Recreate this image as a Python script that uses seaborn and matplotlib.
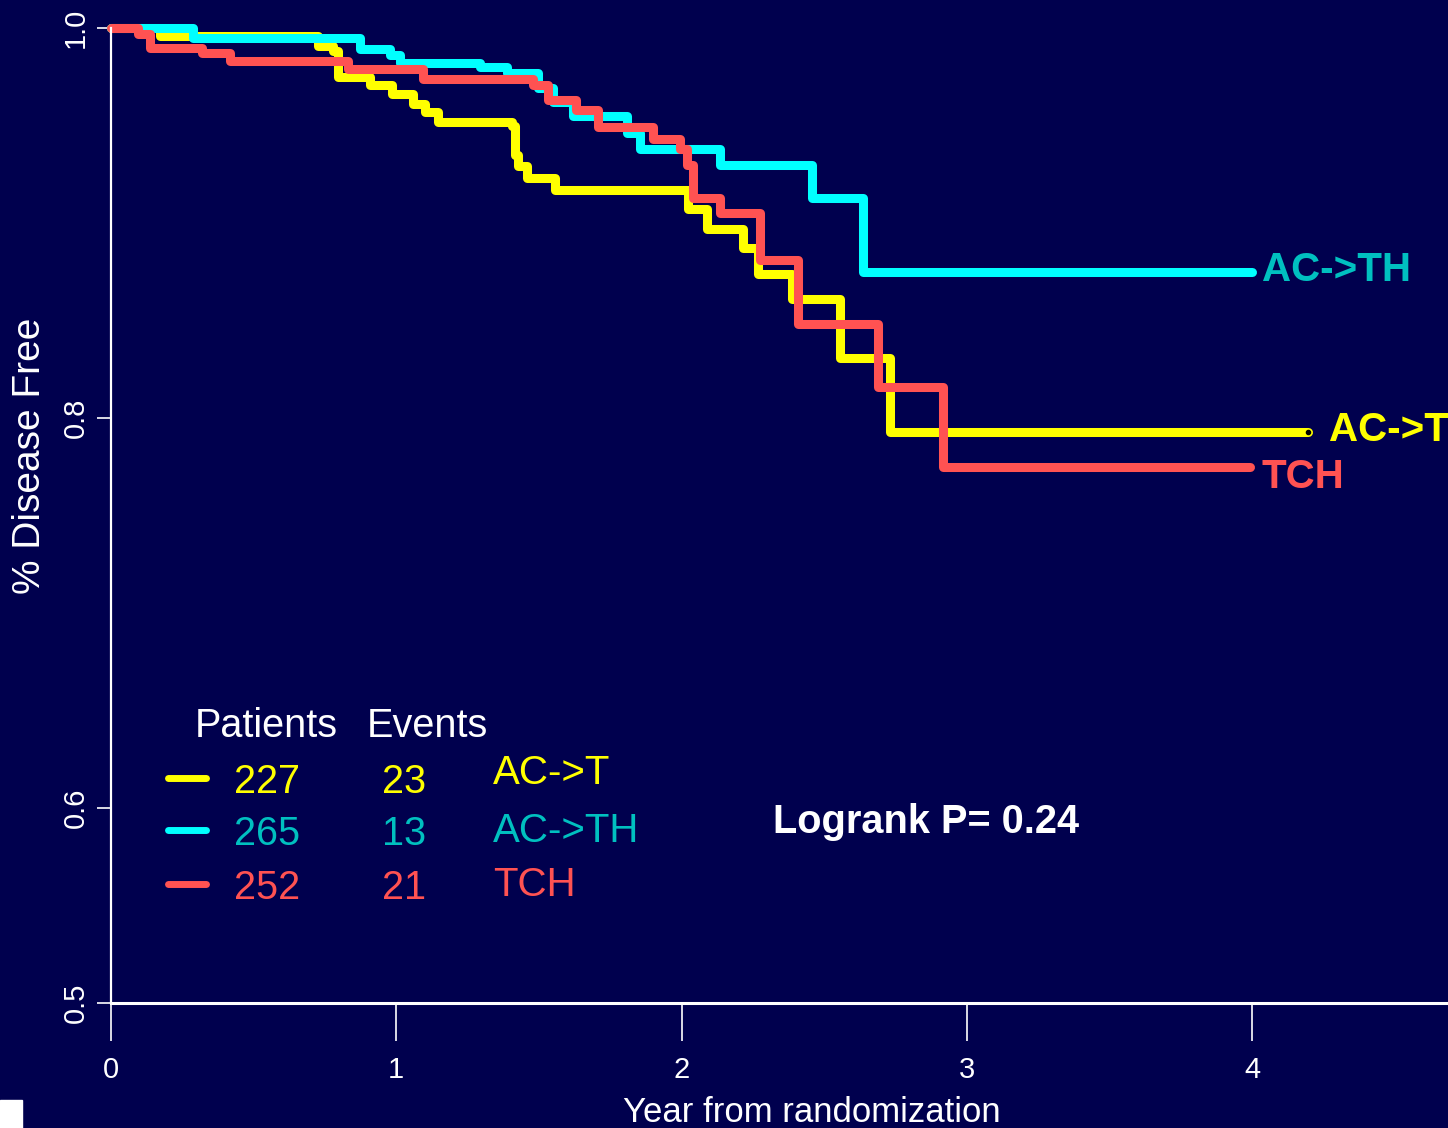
import numpy as np
import pandas as pd
import matplotlib
matplotlib.use("Agg")
import matplotlib.pyplot as plt
from matplotlib.lines import Line2D
from matplotlib.patches import Rectangle
import seaborn as sns

# --- data (years, survival fraction) ---
act_time = [0.0, 0.172, 0.726, 0.778, 0.796, 0.908, 0.985, 1.059, 1.101, 1.146,
            1.406, 1.416, 1.427, 1.458, 1.557, 2.023, 2.089, 2.216, 2.268, 2.387,
            2.556, 2.731, 4.196]
act_surv = [1.0, 0.996, 0.991, 0.988, 0.975, 0.971, 0.966, 0.961, 0.957, 0.952,
            0.950, 0.935, 0.929, 0.923, 0.917, 0.907, 0.897, 0.887, 0.874, 0.861,
            0.831, 0.793, 0.793]

acth_time = [0.0, 0.287, 0.873, 0.978, 1.013, 1.294, 1.388, 1.497, 1.550, 1.620,
             1.809, 1.855, 2.135, 2.458, 2.636, 4.0]
acth_surv = [1.0, 0.995, 0.989, 0.986, 0.982, 0.980, 0.977, 0.969, 0.962, 0.955,
             0.946, 0.938, 0.930, 0.913, 0.875, 0.875]

tch_time = [0.0, 0.095, 0.137, 0.319, 0.417, 0.831, 1.094, 1.479, 1.532, 1.630,
            1.707, 1.900, 1.995, 2.019, 2.040, 2.135, 2.275, 2.408, 2.689, 2.917,
            3.993]
tch_surv = [1.0, 0.997, 0.990, 0.987, 0.983, 0.979, 0.974, 0.971, 0.963, 0.958,
            0.949, 0.943, 0.938, 0.930, 0.913, 0.905, 0.881, 0.848, 0.816, 0.775,
            0.775]

arms = ["AC->T", "AC->TH", "TCH"]
patients = [227, 265, 252]
events = [23, 13, 21]
line_colors = ["#FFFF00", "#00FFFF", "#FF5252"]
text_colors = ["#FFFF00", "#00C0C0", "#FF5252"]

xticks = [0, 1, 2, 3, 4]
yticks = [0.5, 0.6, 0.8, 1.0]

BG = "#00004E"

sns.set_theme(style="ticks")
plt.rcParams["font.family"] = ["Liberation Sans", "DejaVu Sans"]
plt.rcParams["axes.facecolor"] = BG
plt.rcParams["figure.facecolor"] = BG

W, H = 1448, 1128
fig = plt.figure(figsize=(W / 100, H / 100), dpi=100)
ax = fig.add_axes([111 / W, 1 - 1003 / H, 1 - 111 / W, (1003 - 28) / H])

curves = [(act_time, act_surv), (acth_time, acth_surv), (tch_time, tch_surv)]
for (t, s), arm, col in zip(curves, arms, line_colors):
    d = pd.DataFrame({"year": t, "surv": s})
    sns.lineplot(data=d, x="year", y="surv", drawstyle="steps-post", color=col,
                 linewidth=6.5, ax=ax, clip_on=False, solid_capstyle="round",
                 solid_joinstyle="round", errorbar=None)

# small end mark on AC->T
ax.plot(act_time[-1], act_surv[-1], "o", color="black", ms=3, clip_on=False)

ax.set_xlim(0, (W - 111) / 285.25)
ax.set_ylim(0.5, 1.0)

ax.set_xticks(xticks)
ax.set_xticklabels([str(v) for v in xticks], fontsize=21, color="white")
ax.set_yticks(yticks)
ax.set_yticklabels(["%.1f" % v for v in yticks], fontsize=21, color="white",
                   rotation=90, va="center")
ax.tick_params(axis="x", length=27, width=1.2, color="white", pad=11)
ax.tick_params(axis="y", length=10, width=1.2, color="white", pad=5)

for side in ["top", "right"]:
    ax.spines[side].set_visible(False)
ax.spines["left"].set_color("white")
ax.spines["left"].set_linewidth(1.6)
ax.spines["bottom"].set_color("white")
ax.spines["bottom"].set_linewidth(2.2)
ax.grid(False)

ax.set_xlabel("")
ax.set_ylabel("")
fig.text(812 / W, 1 - 1112 / H, "Year from randomization", color="white",
         fontsize=25, ha="center", va="center")
fig.text(30 / W, 1 - 456 / H, "% Disease Free", color="white", fontsize=28,
         rotation=90, ha="center", va="center")

def fx(px):
    return px / W

def fy(py):
    return 1 - py / H

# table-style legend
fig.text(fx(195), fy(726), "Patients", color="white", fontsize=28.5, va="center")
fig.text(fx(367), fy(726), "Events", color="white", fontsize=28.5, va="center")
row_y = [778, 830, 884]
arm_y = [773, 831, 885]
for i in range(3):
    fig.add_artist(Line2D([fx(168), fx(206)], [fy(row_y[i]), fy(row_y[i])],
                          color=line_colors[i], linewidth=5,
                          solid_capstyle="round"))
    fig.text(fx(234), fy(row_y[i] + 4), str(patients[i]), color=text_colors[i],
             fontsize=28.5, va="center")
    fig.text(fx(382), fy(row_y[i] + 4), str(events[i]), color=text_colors[i],
             fontsize=28.5, va="center")
    fig.text(fx(493), fy(arm_y[i]), arms[i], color=text_colors[i],
             fontsize=29, va="center")

fig.text(fx(773), fy(822), "Logrank P= 0.24", color="white", fontsize=28.6,
         fontweight="bold", va="center")

# end-of-curve labels
fig.text(fx(1262), fy(270), "AC->TH", color=text_colors[1], fontsize=29,
         fontweight="bold", va="center")
fig.text(fx(1329), fy(430), "AC->T", color=text_colors[0], fontsize=29,
         fontweight="bold", va="center")
fig.text(fx(1262), fy(477), "TCH", color=text_colors[2], fontsize=29,
         fontweight="bold", va="center")

fig.add_artist(Rectangle((0, 0), fx(22), 28 / H, transform=fig.transFigure,
                         color="white"))

fig.savefig("out.png", dpi=100, facecolor=BG)
